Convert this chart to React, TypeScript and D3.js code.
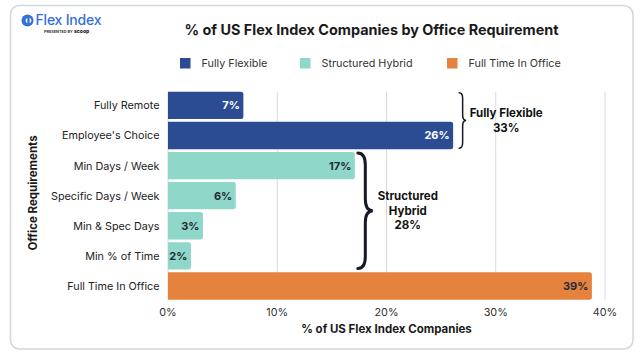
import React from "react";
import * as d3 from "d3";

const categories = [
  "Fully Remote",
  "Employee's Choice",
  "Min Days / Week",
  "Specific Days / Week",
  "Min & Spec Days",
  "Min % of Time",
  "Full Time In Office",
];
const values = [6.9, 26.1, 17.1, 6.2, 3.2, 2.1, 38.8];
const valueLabels = ["7%", "26%", "17%", "6%", "3%", "2%", "39%"];
const groups = [
  "Fully Flexible",
  "Fully Flexible",
  "Structured Hybrid",
  "Structured Hybrid",
  "Structured Hybrid",
  "Structured Hybrid",
  "Full Time In Office",
];
const legendGroups = ["Fully Flexible", "Structured Hybrid", "Full Time In Office"];
const groupColors = ["#2b4b93", "#8fd7c8", "#e5823e"];
const labelColors = ["#ffffff", "#1f2a33", "#1f2a33"];
const xTicks = [0, 10, 20, 30, 40];
const braceGroups = ["Fully Flexible", "Structured Hybrid"];
const braceLines = [["Fully Flexible", "33%"], ["Structured", "Hybrid", "28%"]];

const FONT = "Inter, 'Noto Sans', sans-serif";

function bracePath(x: number, y1: number, y2: number, w: number) {
  const mid = (y1 + y2) / 2;
  const h = w / 2;
  const r = Math.min(w * 0.8, (y2 - y1) / 6);
  return [
    `M ${x} ${y1}`,
    `Q ${x + h} ${y1} ${x + h} ${y1 + r}`,
    `L ${x + h} ${mid - r}`,
    `Q ${x + h} ${mid} ${x + w} ${mid}`,
    `Q ${x + h} ${mid} ${x + h} ${mid + r}`,
    `L ${x + h} ${y2 - r}`,
    `Q ${x + h} ${y2} ${x} ${y2}`,
  ].join(" ");
}

export default function App() {
  const x = d3.scaleLinear().domain([0, 40]).range([168, 605]);
  const y = d3
    .scaleBand<string>()
    .domain(categories)
    .range([90.35, 301])
    .paddingInner(0.09)
    .paddingOuter(0.045);
  const color = d3.scaleOrdinal<string, string>().domain(legendGroups).range(groupColors);
  const lcolor = d3.scaleOrdinal<string, string>().domain(legendGroups).range(labelColors);
  const bh = y.bandwidth();
  const gridTop = y(categories[0])!;
  const gridBottom = y(categories[categories.length - 1])! + bh;

  const legendX = [180, 300, 447];

  const braceConf = [
    { w: 7, sw: 1.5, gap: 6, dx: 40 },
    { w: 15, sw: 3, gap: 3, dx: 35 },
  ];

  return (
    <svg
      width={640}
      height={355}
      style={{ position: "absolute", left: 0, top: 0, fontFamily: FONT }}
    >
      <rect x={0} y={0} width={640} height={355} fill="#ffffff" />
      <rect
        x={10.5}
        y={5.5}
        width={622.5}
        height={343.5}
        rx={9}
        fill="#ffffff"
        stroke="#d3d6db"
        strokeWidth={1.5}
      />

      {/* Logo */}
      <g>
        <circle cx={27.5} cy={20.5} r={6} fill="#3470d8" />
        <circle cx={28.5} cy={20.5} r={2.8} fill="#ffffff" />
        <rect x={27.3} y={17.3} width={2.4} height={6.4} fill="#3470d8" />
        <text x={35.5} y={25} fontSize={14} fontWeight={500} fill="#3470d8" letterSpacing={-0.2}>
          Flex Index
        </text>
        <text x={44} y={33} fontSize={3.8} fontWeight={700} fill="#333">
          PRESENTED BY
        </text>
        <text x={74} y={33} fontSize={5} fontWeight={800} fill="#222">
          scoop
        </text>
      </g>

      {/* Title */}
      <text
        x={371.5}
        y={35}
        textAnchor="middle"
        fontSize={14.4}
        fontWeight={700}
        fill="#1a1a1a"
      >
        % of US Flex Index Companies by Office Requirement
      </text>

      {/* Legend */}
      {legendGroups.map((g, i) => (
        <g key={g}>
          <rect x={legendX[i]} y={58} width={10.5} height={10.5} fill={color(g)} />
          <text x={legendX[i] + 21.5} y={67.3} fontSize={10.8} fill="#333">
            {g}
          </text>
        </g>
      ))}

      {/* Grid */}
      {xTicks.map((t) => (
        <line
          key={t}
          x1={x(t)}
          x2={x(t)}
          y1={gridTop}
          y2={gridBottom}
          stroke="#d9d9dc"
          strokeWidth={1}
        />
      ))}

      {/* Bars */}
      {categories.map((c, i) => {
        const x0 = x(0);
        const x1 = x(values[i]);
        const yy = y(c)!;
        const r = 2.5;
        const path = `M ${x0} ${yy} L ${x1 - r} ${yy} Q ${x1} ${yy} ${x1} ${yy + r} L ${x1} ${yy + bh - r} Q ${x1} ${yy + bh} ${x1 - r} ${yy + bh} L ${x0} ${yy + bh} Z`;
        return (
          <g key={c}>
            <path d={path} fill={color(groups[i])} />
            <text
              x={x1 - 3.5}
              y={yy + bh / 2 + 4}
              textAnchor="end"
              fontSize={11}
              fontWeight={700}
              fill={lcolor(groups[i])}
            >
              {valueLabels[i]}
            </text>
            <text
              x={159.5}
              y={yy + bh / 2 + 4}
              textAnchor="end"
              fontSize={10.8}
              fill="#222"
            >
              {c}
            </text>
          </g>
        );
      })}

      {/* X tick labels */}
      {xTicks.map((t) => (
        <text
          key={t}
          x={x(t)}
          y={315.5}
          textAnchor="middle"
          fontSize={10.8}
          fill="#333"
        >
          {`${t}%`}
        </text>
      ))}

      {/* Axis titles */}
      <text
        x={386.5}
        y={333}
        textAnchor="middle"
        fontSize={11.5}
        fontWeight={700}
        fill="#1a1a1a"
      >
        % of US Flex Index Companies
      </text>
      <text
        transform={`translate(37, 193) rotate(-90)`}
        textAnchor="middle"
        fontSize={11.5}
        fontWeight={700}
        fill="#1a1a1a"
      >
        Office Requirements
      </text>

      {/* Braces */}
      {braceGroups.map((g, bi) => {
        const idx = categories.map((_, i) => i).filter((i) => groups[i] === g);
        const maxV = d3.max(idx, (i) => values[i])!;
        const top = y(categories[idx[0]])!;
        const bottom = y(categories[idx[idx.length - 1]])! + bh;
        const conf = braceConf[bi];
        const bx = x(maxV) + conf.gap;
        const y1 = top + 1;
        const y2 = bottom - 1;
        const mid = (y1 + y2) / 2;
        const lines = braceLines[bi];
        const lh = 14.4;
        const tx = bx + conf.w + conf.dx;
        const ty0 = mid - ((lines.length - 1) * lh) / 2 + 4;
        return (
          <g key={g}>
            <path
              d={bracePath(bx, y1, y2, conf.w)}
              fill="none"
              stroke="#161a24"
              strokeWidth={conf.sw}
              strokeLinecap="round"
            />
            {lines.map((l, li) => (
              <text
                key={li}
                x={tx}
                y={ty0 + li * lh}
                textAnchor="middle"
                fontSize={11.5}
                fontWeight={700}
                fill="#111"
              >
                {l}
              </text>
            ))}
          </g>
        );
      })}
    </svg>
  );
}
